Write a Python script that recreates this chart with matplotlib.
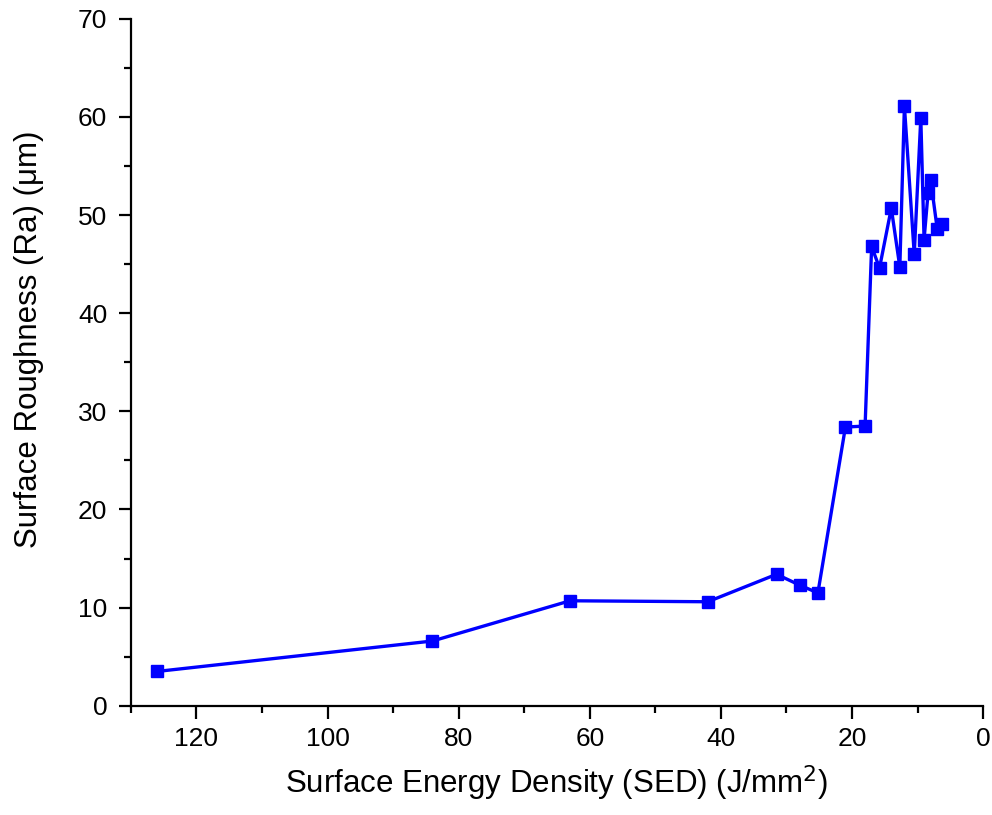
import matplotlib
matplotlib.use("Agg")
import matplotlib.pyplot as plt
from matplotlib.ticker import MultipleLocator

# Surface energy density (J/mm^2) and roughness Ra (um)
sed = [126.0, 84.0, 63.0, 42.0, 31.5, 28.0, 25.2, 21.0, 18.0,
       17.0, 15.8, 14.0, 12.7, 12.0, 10.5, 9.5, 9.0, 8.4, 8.0, 7.0, 6.3]
ra = [3.5, 6.6, 10.7, 10.6, 13.4, 12.3, 11.5, 28.4, 28.5,
      46.8, 44.6, 50.7, 44.7, 61.1, 46.0, 59.9, 47.5, 52.2, 53.6, 48.6, 49.1]

plt.rcParams["font.family"] = ["Liberation Sans", "DejaVu Sans"]

fig = plt.figure(figsize=(9.92, 8.15), dpi=100)
ax = fig.add_axes([0.132, 0.134, 0.859, 0.843])

ax.plot(sed, ra, color="#0000FF", linewidth=2.4, marker="s", markersize=8.5)

ax.set_xlim(130, 0)
ax.set_ylim(0, 70)
ax.xaxis.set_major_locator(MultipleLocator(20))
ax.xaxis.set_minor_locator(MultipleLocator(10))
ax.yaxis.set_major_locator(MultipleLocator(10))
ax.yaxis.set_minor_locator(MultipleLocator(5))

for side in ("top", "right"):
    ax.spines[side].set_visible(False)
for side in ("left", "bottom"):
    ax.spines[side].set_linewidth(1.6)

ax.tick_params(which="major", direction="out", length=9, width=1.6, labelsize=19, pad=6)
ax.tick_params(axis="y", which="major", pad=8)
ax.tick_params(which="minor", direction="out", length=5, width=1.6)

ax.set_xlabel("Surface Energy Density (SED) (J/mm$^2$)", fontsize=22.5, labelpad=9)
ax.set_ylabel("Surface Roughness (Ra) (\u03bcm)", fontsize=22.5)
ax.yaxis.set_label_coords(-0.102, 0.533)

fig.savefig("out.png", dpi=100)
